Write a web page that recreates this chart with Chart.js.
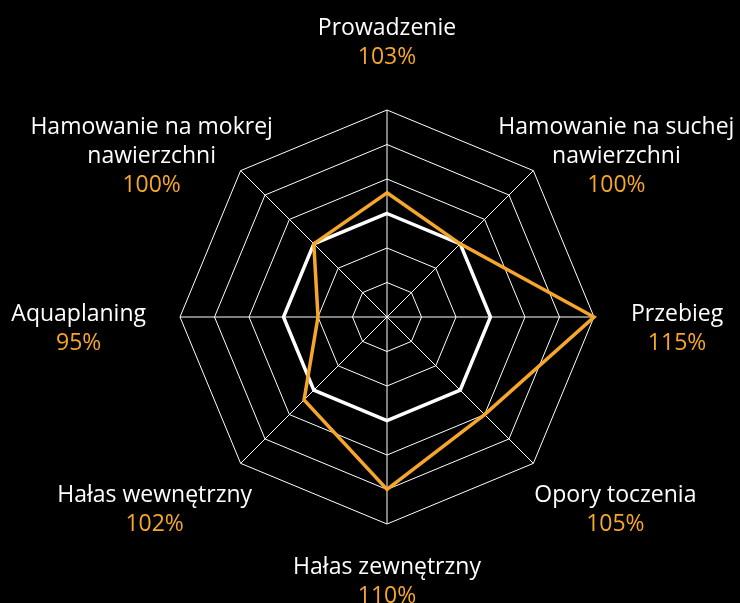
<!DOCTYPE html>
<html>
<head>
<meta charset="utf-8">
<script src="https://cdn.jsdelivr.net/npm/chart.js@4.4.1/dist/chart.umd.min.js"></script>
<style>
  html, body { margin: 0; padding: 0; background: #000; }
  #wrap { width: 740px; height: 603px; }
</style>
</head>
<body>
<div id="wrap"><canvas id="radarChart" width="740" height="603"></canvas></div>
<script>
const axisNames = [
    'Prowadzenie',
    ['Hamowanie na suchej', 'nawierzchni'],
    'Przebieg',
    'Opory toczenia',
    'Hałas zewnętrzny',
    'Hałas wewnętrzny',
    'Aquaplaning',
    ['Hamowanie na mokrej', 'nawierzchni']
];
const tyreValues = [103, 100, 115, 105, 110, 102, 95, 100];
const referenceValues = [100, 100, 100, 100, 100, 100, 100, 100];
const scaleMin = 85;
const scaleMax = 115;
const scaleStep = 5;

const ORANGE = '#F6A62A';

// names in white, percentage in orange, lines centred under each other
const axisLabelPlugin = {
    id: 'axisLabels',
    afterDraw(chart) {
        const scale = chart.scales.r;
        const ctx = chart.ctx;
        const lineH = 29;
        ctx.save();
        ctx.font = '23px "Open Sans"';
        ctx.textAlign = 'center';
        ctx.textBaseline = 'middle';
        axisNames.forEach((name, i) => {
            const lines = [].concat(name);
            const p = scale.getPointPosition(i, scale.drawingArea);
            const w = Math.max(...lines.map(l => ctx.measureText(l).width));
            let cx = p.x, cy = p.y + 2;
            switch (i) {
                case 0: cy -= 69.5; break;
                case 1: cx += 83; cy -= 16; break;
                case 2: cx += 37 + w / 2; cy += 10; break;
                case 3: cx += 82; cy += 45; break;
                case 4: cy += 56; break;
                case 5: cx -= 86; cy += 45; break;
                case 6: cx -= 34 + w / 2; cy += 10; break;
                case 7: cx -= 89; cy -= 16; break;
            }
            const all = lines.concat([tyreValues[i] + '%']);
            let y = cy - (all.length - 1) * lineH / 2;
            all.forEach((txt, k) => {
                ctx.fillStyle = k === all.length - 1 ? ORANGE : '#ffffff';
                ctx.fillText(txt, cx, y);
                y += lineH;
            });
        });
        ctx.restore();
    }
};

function setupRadarChart() {
    const ctx = document.getElementById('radarChart').getContext('2d');
    return new Chart(ctx, {
        type: 'radar',
        data: {
            labels: axisNames,
            datasets: [{
                label: 'Opona',
                data: tyreValues,
                borderColor: ORANGE,
                borderWidth: 3.5,
                fill: false,
                pointRadius: 0,
                borderJoinStyle: 'miter',
                order: 0
            },
            {
                label: 'Referencja',
                data: referenceValues,
                borderColor: '#ffffff',
                borderWidth: 3.5,
                fill: false,
                pointRadius: 0,
                borderJoinStyle: 'miter',
                order: 1
            }]
        },
        options: {
            responsive: false,
            animation: false,
            layout: {
                padding: { top: 110, bottom: 79, left: 34, right: 0 }
            },
            plugins: {
                legend: { display: false },
                tooltip: { enabled: false }
            },
            scales: {
                r: {
                    min: scaleMin,
                    max: scaleMax,
                    beginAtZero: false,
                    ticks: { display: false, stepSize: scaleStep },
                    pointLabels: { display: false },
                    grid: { color: '#ffffff', lineWidth: 1 },
                    angleLines: { color: '#ffffff', lineWidth: 1 }
                }
            }
        },
        plugins: [axisLabelPlugin]
    });
}

setupRadarChart();
</script>
</body>
</html>
